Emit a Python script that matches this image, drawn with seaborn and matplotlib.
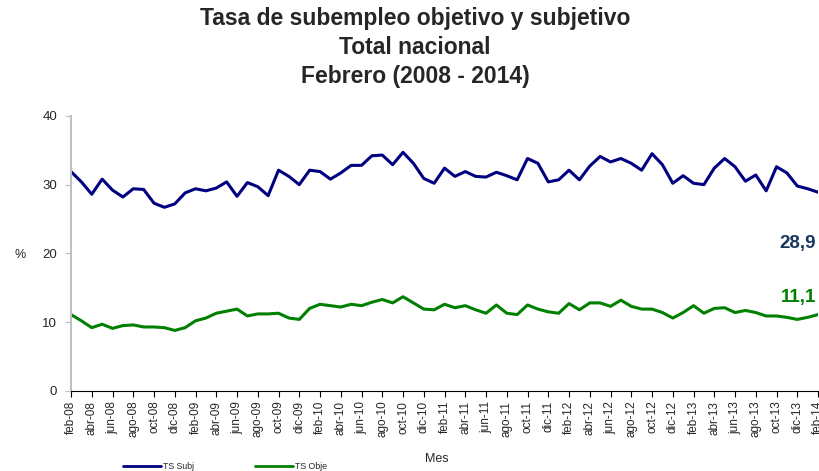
import numpy as np
import pandas as pd
import matplotlib
matplotlib.use("Agg")
import matplotlib.pyplot as plt
import seaborn as sns

# monthly series feb-08 .. feb-14
meses_abr = ["ene", "feb", "mar", "abr", "may", "jun", "jul", "ago", "sep", "oct", "nov", "dic"]
meses = [f"{meses_abr[(1 + k) % 12]}-{8 + (1 + k) // 12:02d}" for k in range(73)]

ts_subj = [31.9, 30.4, 28.6, 30.8, 29.2, 28.2, 29.4, 29.3, 27.3, 26.7, 27.2, 28.8,
           29.4, 29.1, 29.5, 30.4, 28.3, 30.3, 29.7, 28.4, 32.1, 31.2, 30.0, 32.1,
           31.9, 30.8, 31.7, 32.8, 32.8, 34.2, 34.3, 32.9, 34.7, 33.1, 30.9, 30.2,
           32.4, 31.2, 31.9, 31.2, 31.1, 31.8, 31.3, 30.7, 33.8, 33.1, 30.4, 30.7,
           32.1, 30.7, 32.7, 34.1, 33.3, 33.8, 33.1, 32.1, 34.5, 32.9, 30.2, 31.3,
           30.2, 30.0, 32.4, 33.8, 32.6, 30.5, 31.4, 29.1, 32.6, 31.7, 29.8, 29.4,
           28.9]
ts_obje = [11.1, 10.2, 9.2, 9.7, 9.1, 9.5, 9.6, 9.3, 9.3, 9.2, 8.8, 9.2,
           10.2, 10.6, 11.3, 11.6, 11.9, 10.9, 11.2, 11.2, 11.3, 10.6, 10.4, 12.0,
           12.6, 12.4, 12.2, 12.6, 12.4, 12.9, 13.3, 12.8, 13.7, 12.8, 11.9, 11.8,
           12.6, 12.1, 12.4, 11.8, 11.3, 12.5, 11.3, 11.1, 12.5, 11.9, 11.5, 11.3,
           12.7, 11.8, 12.8, 12.8, 12.3, 13.2, 12.3, 11.9, 11.9, 11.4, 10.6, 11.4,
           12.4, 11.3, 12.0, 12.1, 11.4, 11.7, 11.4, 10.9, 10.9, 10.7, 10.4, 10.7,
           11.1]

df = pd.DataFrame({"idx": np.arange(len(meses)), "mes": meses,
                   "TS Subj": ts_subj, "TS Obje": ts_obje})
long_df = df.melt(id_vars=["idx", "mes"], var_name="serie", value_name="tasa")

sns.set_style("white")
plt.rcParams["font.family"] = ["Liberation Sans", "DejaVu Sans"]

fig = plt.figure(figsize=(8.2, 4.71), dpi=100)
ax = fig.add_axes([0.0866, 0.170, 0.9110, 0.584])

sns.lineplot(data=long_df, x="idx", y="tasa", hue="serie",
             palette={"TS Subj": "#000080", "TS Obje": "#008000"},
             linewidth=2.2, ax=ax, legend=False)

ax.set_xlim(0, len(meses) - 1)
ax.set_ylim(0, 40)
ax.set_yticks([0, 10, 20, 30, 40])
ax.set_xticks(df["idx"][::2])
ax.set_xticklabels(df["mes"][::2], rotation=90, fontsize=8.5)
ax.tick_params(axis="y", labelsize=9.5, length=4, color="#c0c0c0", left=True, pad=6)
ax.tick_params(axis="x", length=4, color="black", bottom=True, pad=3)
for s in ["top", "right"]:
    ax.spines[s].set_visible(False)
ax.spines["left"].set_color("#c0c0c0")
ax.spines["left"].set_linewidth(1.5)
ax.spines["bottom"].set_color("black")
ax.set_xlabel("")
ax.set_ylabel("")

# end-value labels
ax.annotate("28,9", (df["idx"].iloc[-1], ts_subj[-1]), xytext=(-28, -40),
            textcoords="offset points", color="#17375E", fontsize=13.5,
            fontweight="bold")
ax.annotate("11,1", (df["idx"].iloc[-1], ts_obje[-1]), xytext=(-27, 9),
            textcoords="offset points", color="#008000", fontsize=13.5,
            fontweight="bold")

fig.text(0.506, 0.985, "Tasa de subempleo objetivo y subjetivo\nTotal nacional\nFebrero (2008 - 2014)",
         ha="center", va="top", fontsize=16.5, fontweight="bold", linespacing=1.32)
fig.text(0.018, 0.458, "%", fontsize=9, ha="left", va="center")
fig.text(0.533, 0.012, "Mes", fontsize=9, ha="center", va="bottom")

# legend at the bottom
fig.lines.append(plt.Line2D([0.150, 0.196], [0.010, 0.010], color="#000080", lw=2, transform=fig.transFigure))
fig.text(0.199, 0.010, "TS Subj", fontsize=6.3, va="center")
fig.lines.append(plt.Line2D([0.311, 0.357], [0.010, 0.010], color="#008000", lw=2, transform=fig.transFigure))
fig.text(0.360, 0.010, "TS Obje", fontsize=6.3, va="center")

fig.savefig("out.png", dpi=100)
